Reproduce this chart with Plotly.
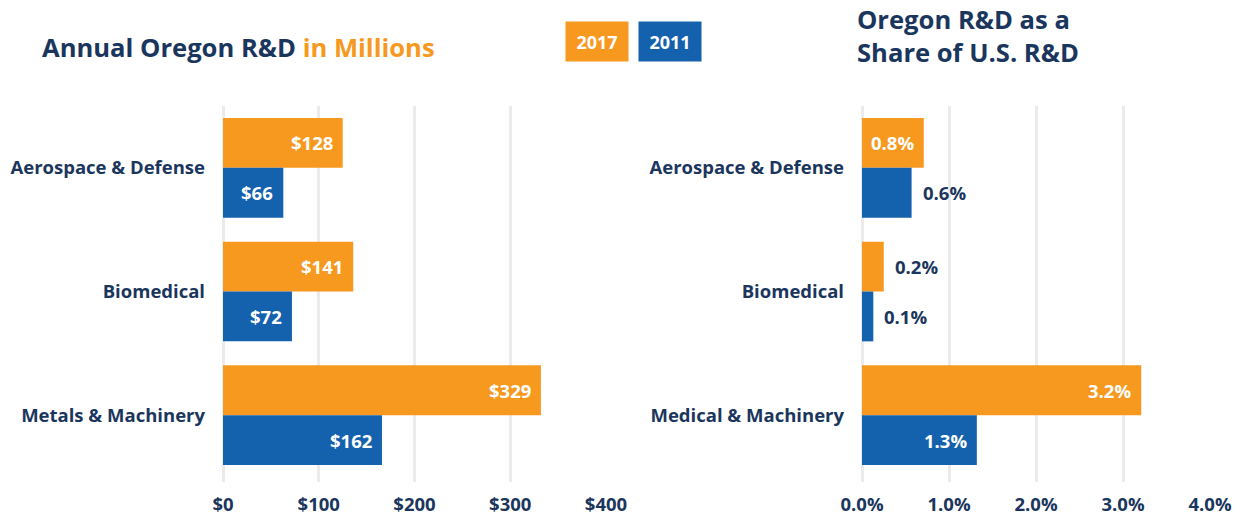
import plotly.graph_objects as go

# ---------------- data ----------------
categories_left = ["Aerospace & Defense", "Biomedical", "Metals & Machinery"]
categories_right = ["Aerospace & Defense", "Biomedical", "Medical & Machinery"]

rd_2017 = [125, 136, 332]          # bar lengths (millions $)
rd_2011 = [63, 72, 166]
rd_2017_labels = ["$128", "$141", "$329"]
rd_2011_labels = ["$66", "$72", "$162"]

share_2017 = [0.71, 0.25, 3.21]    # % of U.S. R&D
share_2011 = [0.57, 0.13, 1.32]
share_2017_labels = ["0.8%", "0.2%", "3.2%"]
share_2011_labels = ["0.6%", "0.1%", "1.3%"]

left_ticks = [0, 100, 200, 300, 400]
left_ticktext = ["$0", "$100", "$200", "$300", "$400"]
right_ticks = [0, 1, 2, 3, 4]
right_ticktext = ["0.0%", "1.0%", "2.0%", "3.0%", "4.0%"]

series_names = ["2017", "2011"]

# ---------------- style ----------------
W, H = 1240, 515
ORANGE = "#F7981F"
BLUE = "#1461AD"
NAVY = "#1B365D"
GRID = "#EBEBEB"
FONT = "Open Sans"
FS = 18.5

left_px = (223, 606)
right_px = (862, 1210)
top_px, bot_px = 106, 482

def dom_x(p):
    return [p[0] / W, p[1] / W]

ydom = [1 - bot_px / H, 1 - top_px / H]

fig = go.Figure()

fig.add_trace(go.Bar(y=categories_left, x=rd_2017, orientation="h", name=series_names[0],
                     marker=dict(color=ORANGE, line=dict(width=0)), xaxis="x", yaxis="y",
                     hoverinfo="skip"))
fig.add_trace(go.Bar(y=categories_left, x=rd_2011, orientation="h", name=series_names[1],
                     marker=dict(color=BLUE, line=dict(width=0)), xaxis="x", yaxis="y",
                     hoverinfo="skip"))
fig.add_trace(go.Bar(y=categories_right, x=share_2017, orientation="h", name=series_names[0],
                     marker=dict(color=ORANGE, line=dict(width=0)), xaxis="x2", yaxis="y2",
                     hoverinfo="skip"))
fig.add_trace(go.Bar(y=categories_right, x=share_2011, orientation="h", name=series_names[1],
                     marker=dict(color=BLUE, line=dict(width=0)), xaxis="x2", yaxis="y2",
                     hoverinfo="skip"))

annotations = []

def bar_labels(cats, vals, labels, shift, xref, yref, px_per_unit, inside_color):
    for c, v, t in zip(cats, vals, labels):
        bar_px = v * px_per_unit
        text_w = len(t) * 0.55 * FS
        inside = bar_px >= text_w + 16
        annotations.append(dict(
            x=v, y=c, xref=xref, yref=yref, text=t, showarrow=False,
            xanchor="right" if inside else "left",
            xshift=-8 if inside else 9, yshift=shift,
            font=dict(family=FONT, size=FS, weight=700,
                      color=inside_color if inside else NAVY),
        ))

lppu = (left_px[1] - left_px[0]) / 400
rppu = (right_px[1] - right_px[0]) / 4
bar_labels(categories_left, rd_2017, rd_2017_labels, 25, "x", "y", lppu, "white")
bar_labels(categories_left, rd_2011, rd_2011_labels, -25, "x", "y", lppu, "white")
bar_labels(categories_right, share_2017, share_2017_labels, 25, "x2", "y2", rppu, "white")
bar_labels(categories_right, share_2011, share_2011_labels, -25, "x2", "y2", rppu, "white")

# titles
annotations.append(dict(
    x=40 / W, y=1 - 47 / H, xref="paper", yref="paper", xanchor="left", yanchor="middle",
    text="Annual Oregon R&D <span style='color:%s'>in Millions</span>" % ORANGE,
    showarrow=False, font=dict(family=FONT, size=25.6, weight=700, color=NAVY)))
annotations.append(dict(
    x=855 / W, y=1 - 36 / H, xref="paper", yref="paper", xanchor="left", yanchor="middle",
    text="Oregon R&D as a<br>Share of U.S. R&D", align="left",
    showarrow=False, font=dict(family=FONT, size=25.6, weight=700, color=NAVY)))

# legend boxes
for name, color, cx in [(series_names[0], ORANGE, 597), (series_names[1], BLUE, 670)]:
    annotations.append(dict(
        x=cx / W, y=1 - 41.5 / H, xref="paper", yref="paper", xanchor="center", yanchor="middle",
        text=name, showarrow=False, width=54, height=31, bgcolor=color, borderpad=4,
        font=dict(family=FONT, size=18, weight=700, color="white")))

xaxis_common = dict(showgrid=True, gridcolor=GRID, gridwidth=3, zeroline=True,
                    zerolinecolor=GRID, zerolinewidth=3, showline=False, ticks="",
                    tickfont=dict(family=FONT, size=FS, weight=700, color=NAVY),
                    ticklabelstandoff=9, fixedrange=True, automargin=False)
yaxis_common = dict(showgrid=False, zeroline=False, showline=False, ticks="",
                    tickfont=dict(family=FONT, size=FS, weight=700, color=NAVY),
                    ticklabelstandoff=17, range=[2.54, -0.5], domain=ydom, fixedrange=True,
                    automargin=False)

fig.update_layout(
    width=W, height=H,
    margin=dict(l=0, r=0, t=0, b=0, autoexpand=False),
    paper_bgcolor="white", plot_bgcolor="white",
    barmode="group", bargap=0.194, bargroupgap=0,
    showlegend=False,
    xaxis=dict(domain=dom_x(left_px), range=[0, 400], tickvals=left_ticks,
               ticktext=left_ticktext, anchor="y", **xaxis_common),
    yaxis=dict(anchor="x", **yaxis_common),
    xaxis2=dict(domain=dom_x(right_px), range=[0, 4], tickvals=right_ticks,
                ticktext=right_ticktext, anchor="y2", **xaxis_common),
    yaxis2=dict(anchor="x2", **yaxis_common),
    annotations=annotations,
)

fig.write_html("out.html", config={"displayModeBar": False})
